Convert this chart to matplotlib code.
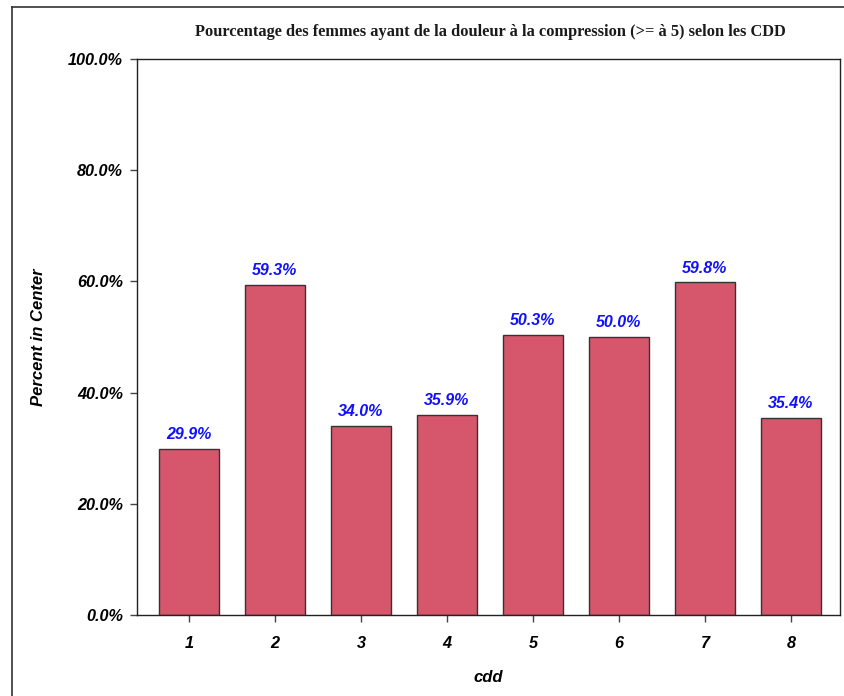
import matplotlib
matplotlib.use("Agg")
import matplotlib.pyplot as plt
from matplotlib.lines import Line2D
from matplotlib.ticker import FuncFormatter

# data
cdd = [1, 2, 3, 4, 5, 6, 7, 8]
pct = [29.9, 59.3, 34.0, 35.9, 50.3, 50.0, 59.8, 35.4]

title = "Pourcentage des femmes ayant de la douleur à la compression (>= à 5) selon les CDD"
bar_color = "#D6566B"
sans = ["Liberation Sans", "DejaVu Sans"]

fig = plt.figure(figsize=(8.45, 6.96), dpi=100)
ax = fig.add_axes([0.1621, 0.1164, 0.832, 0.7989])

ax.bar(cdd, pct, width=0.70, color=bar_color, edgecolor="#333333", linewidth=1.0, zorder=2)

for x, v in zip(cdd, pct):
    ax.annotate(f"{v:.1f}%", (x, v), xytext=(0, 5), textcoords="offset points",
                ha="center", va="bottom", color="#1010FF", fontsize=11.5,
                fontweight="bold", fontstyle="italic", family=sans)

ax.set_xlim(0.395, 8.57)
ax.set_ylim(0, 100)
ax.set_xticks(cdd)
ax.set_yticks([0, 20, 40, 60, 80, 100])
ax.yaxis.set_major_formatter(FuncFormatter(lambda v, p: f"{v:.1f}%"))

ax.tick_params(axis="both", direction="out", length=5, width=1.0, color="#444444")
ax.tick_params(axis="x", pad=10)
ax.tick_params(axis="y", pad=5)
for lab in ax.get_xticklabels() + ax.get_yticklabels():
    lab.set_fontweight("bold")
    lab.set_fontstyle("italic")
    lab.set_fontsize(11.7)
    lab.set_family(sans)

for s in ax.spines.values():
    s.set_linewidth(1.0)
    s.set_color("#222222")

ax.set_xlabel("cdd", fontsize=12, fontweight="bold", fontstyle="italic", family=sans, labelpad=14)
ax.set_ylabel("Percent in Center", fontsize=12, fontweight="bold", fontstyle="italic", family=sans, labelpad=16)

fig.text(0.58, 0.954, title, ha="center", va="center", fontsize=11.8, fontweight="bold",
         family=["Liberation Serif", "DejaVu Serif"], color="#1a1a1a")

# outer frame (left and top edges visible in the reference)
fig.add_artist(Line2D([12 / 845, 12 / 845], [0, 1 - 7 / 696], transform=fig.transFigure,
                      color="#333333", linewidth=1.2))
fig.add_artist(Line2D([12 / 845, 1], [1 - 7 / 696, 1 - 7 / 696], transform=fig.transFigure,
                      color="#333333", linewidth=1.2))

fig.savefig("out.png", dpi=100)
